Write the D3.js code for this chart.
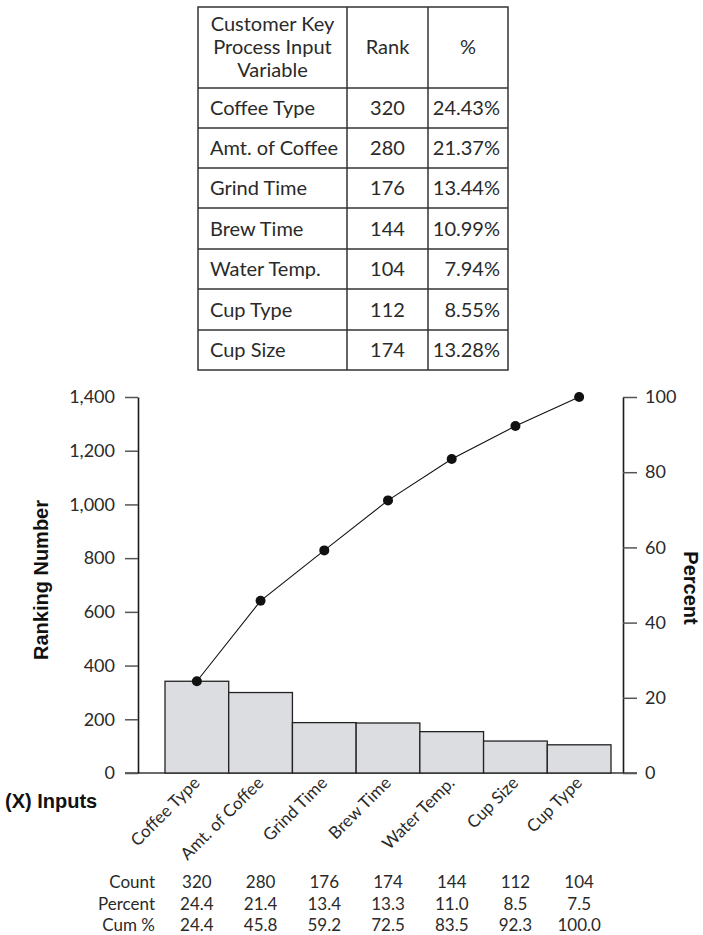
<!DOCTYPE html>
<html>
<head>
<meta charset="utf-8">
<script src="https://cdn.jsdelivr.net/npm/d3@7"></script>
<style>
  body { margin: 0; background: #fff; }
  svg { display: block; }
  text { font-family: Lato, "Open Sans", sans-serif; fill: #2a2a2a; }
  .title { font-family: "Liberation Sans", Arial, sans-serif; font-weight: bold; font-size: 20px; fill: #111; }
</style>
</head>
<body>
<svg width="703" height="935"></svg>
<script>
// table at the top
var tableVars = ["Coffee Type", "Amt. of Coffee", "Grind Time", "Brew Time", "Water Temp.", "Cup Type", "Cup Size"];
var tableRank = [320, 280, 176, 144, 104, 112, 174];
var tablePct = ["24.43%", "21.37%", "13.44%", "10.99%", "7.94%", "8.55%", "13.28%"];
var tableHeader = ["Customer Key", "Process Input", "Variable"];

// pareto data
var inputs = ["Coffee Type", "Amt. of Coffee", "Grind Time", "Brew Time", "Water Temp.", "Cup Size", "Cup Type"];
var counts = [320, 280, 176, 174, 144, 112, 104];
var percents = [24.4, 21.4, 13.4, 13.3, 11.0, 8.5, 7.5];
var cumPct = [24.4, 45.8, 59.2, 72.5, 83.5, 92.3, 100.0];
var leftTicks = [0, 200, 400, 600, 800, 1000, 1200, 1400];
var rightTicks = [0, 20, 40, 60, 80, 100];

var svg = d3.select("svg");

// ---- table ----
var colX = [198, 347, 428, 508];
var rowY = [7, 88, 128, 168, 208, 249, 289, 330, 370];
var tbl = svg.append("g");

tbl.append("rect")
    .attr("x", colX[0]).attr("y", rowY[0])
    .attr("width", colX[3] - colX[0]).attr("height", rowY[8] - rowY[0])
    .attr("fill", "none").attr("stroke", "#333").attr("stroke-width", 1.5);

tbl.selectAll("line.h").data(rowY.slice(1, 8)).enter().append("line")
    .attr("x1", colX[0]).attr("x2", colX[3])
    .attr("y1", function(d) { return d; }).attr("y2", function(d) { return d; })
    .attr("stroke", "#333").attr("stroke-width", 1.5);

tbl.selectAll("line.v").data(colX.slice(1, 3)).enter().append("line")
    .attr("y1", rowY[0]).attr("y2", rowY[8])
    .attr("x1", function(d) { return d; }).attr("x2", function(d) { return d; })
    .attr("stroke", "#333").attr("stroke-width", 1.5);

tbl.selectAll("text.hd").data(tableHeader).enter().append("text")
    .attr("x", (colX[0] + colX[1]) / 2)
    .attr("y", function(d, i) { return 31 + i * 23; })
    .attr("text-anchor", "middle").attr("font-size", 20)
    .text(function(d) { return d; });

tbl.append("text").attr("x", (colX[1] + colX[2]) / 2).attr("y", 54)
    .attr("text-anchor", "middle").attr("font-size", 20).text("Rank");
tbl.append("text").attr("x", (colX[2] + colX[3]) / 2).attr("y", 54)
    .attr("text-anchor", "middle").attr("font-size", 20).text("%");

tableVars.forEach(function(v, i) {
    var cy = (rowY[i + 1] + rowY[i + 2]) / 2;
    tbl.append("text").attr("x", colX[0] + 12).attr("y", cy).attr("dy", "0.35em")
        .attr("font-size", 20).text(v);
    tbl.append("text").attr("x", (colX[1] + colX[2]) / 2).attr("y", cy).attr("dy", "0.35em")
        .attr("text-anchor", "middle").attr("font-size", 20).text(tableRank[i]);
    tbl.append("text").attr("x", colX[3] - 8).attr("y", cy).attr("dy", "0.35em")
        .attr("text-anchor", "end").attr("font-size", 20).text(tablePct[i]);
});

// ---- pareto chart ----
var axisL = 138, axisR = 623, yTop = 397, yBase = 773;

var x = d3.scaleBand().domain(inputs).range([165, 611]).padding(0);
var yLeft = d3.scaleLinear().domain([0, 1400]).range([yBase, yTop]);
var yRight = d3.scaleLinear().domain([0, 100]).range([yBase, yTop]);

// baseline
svg.append("line")
    .attr("x1", axisL - 13).attr("x2", axisR + 14)
    .attr("y1", yBase).attr("y2", yBase)
    .attr("stroke", "#6a6a6a").attr("stroke-width", 2);

// bars (height = share of total, on the percent scale)
svg.selectAll("rect.bar").data(inputs).enter().append("rect")
    .attr("class", "bar")
    .attr("x", function(d) { return x(d); })
    .attr("width", x.bandwidth())
    .attr("y", function(d, i) { return yRight(percents[i]); })
    .attr("height", function(d, i) { return yBase - yRight(percents[i]); })
    .attr("fill", "#dcdde0").attr("stroke", "#222").attr("stroke-width", 1.3);

// axes
var gl = svg.append("g").attr("transform", "translate(" + axisL + ",0)")
    .call(d3.axisLeft(yLeft).tickValues(leftTicks).tickFormat(d3.format(",")).tickSize(13).tickSizeOuter(0).tickPadding(10));
var gr = svg.append("g").attr("transform", "translate(" + axisR + ",0)")
    .call(d3.axisRight(yRight).tickValues(rightTicks).tickSize(14).tickSizeOuter(0).tickPadding(8));

[gl, gr].forEach(function(g) {
    g.select(".domain").attr("stroke", "#1a1a1a").attr("stroke-width", 1.6);
    g.selectAll(".tick line").attr("stroke", "#555").attr("stroke-width", 1.5);
    g.selectAll(".tick text").attr("font-family", "Lato, sans-serif").attr("font-size", 18).attr("fill", "#333");
});

// cumulative line
var line = d3.line()
    .x(function(d, i) { return x(inputs[i]) + x.bandwidth() / 2; })
    .y(function(d) { return yRight(d); });

svg.append("path").datum(cumPct)
    .attr("d", line).attr("fill", "none")
    .attr("stroke", "#111").attr("stroke-width", 1.1);

svg.selectAll("circle.pt").data(cumPct).enter().append("circle")
    .attr("cx", function(d, i) { return x(inputs[i]) + x.bandwidth() / 2; })
    .attr("cy", function(d) { return yRight(d); })
    .attr("r", 5).attr("fill", "#111");

// x labels
svg.selectAll("text.xl").data(inputs).enter().append("text")
    .attr("transform", function(d) {
        return "translate(" + (x(d) + x.bandwidth() / 2 + 4) + ",784) rotate(-45)";
    })
    .attr("text-anchor", "end").attr("font-size", 17)
    .text(function(d) { return d; });

// axis titles
svg.append("text").attr("class", "title")
    .attr("transform", "translate(48,580) rotate(-90)")
    .attr("text-anchor", "middle").text("Ranking Number");
svg.append("text").attr("class", "title")
    .attr("transform", "translate(684,588) rotate(90)")
    .attr("text-anchor", "middle").text("Percent");
svg.append("text").attr("class", "title")
    .attr("x", 5).attr("y", 808).text("(X) Inputs");

// stats rows
var statRows = [
    { label: "Count", vals: counts.map(String) },
    { label: "Percent", vals: percents.map(function(v) { return v.toFixed(1); }) },
    { label: "Cum %", vals: cumPct.map(function(v) { return v.toFixed(1); }) }
];
statRows.forEach(function(r, j) {
    var yy = 888 + j * 21.5;
    svg.append("text").attr("x", 155).attr("y", yy)
        .attr("text-anchor", "end").attr("font-size", 17).text(r.label);
    svg.selectAll(null).data(r.vals).enter().append("text")
        .attr("x", function(d, i) { return x(inputs[i]) + x.bandwidth() / 2; })
        .attr("y", yy)
        .attr("text-anchor", "middle").attr("font-size", 17)
        .text(function(d) { return d; });
});
</script>
</body>
</html>
